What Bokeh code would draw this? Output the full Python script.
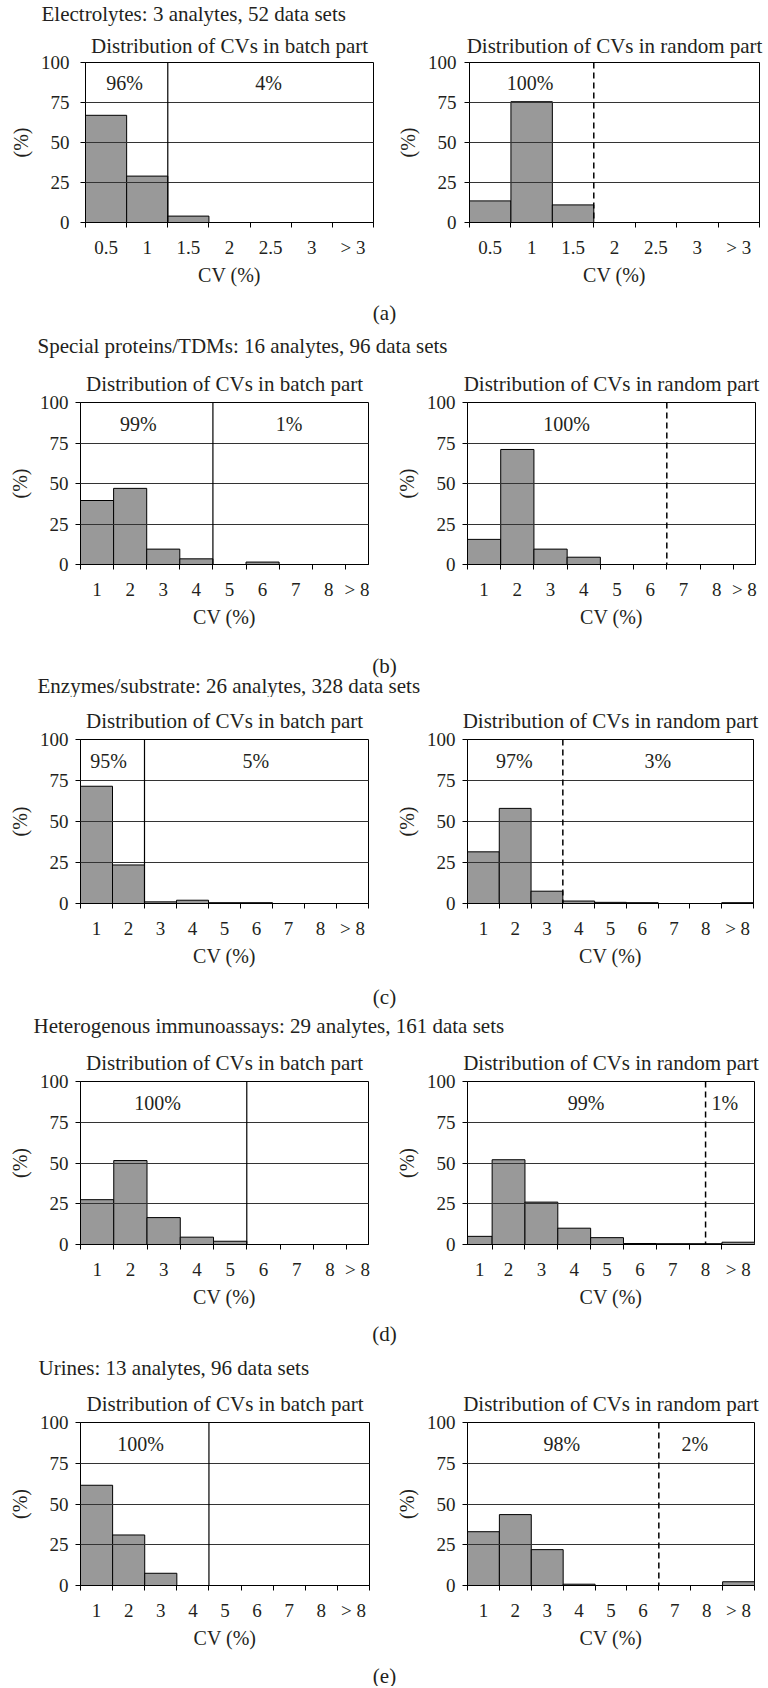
from bokeh.plotting import figure
from bokeh.layouts import column, row
from bokeh.models import Range1d, FixedTicker, Span
from bokeh.core.properties import value
from bokeh.embed import file_html
from bokeh.resources import INLINE

# ---------------- data ----------------
bins_electrolytes = ["0.5", "1", "1.5", "2", "2.5", "3", "> 3"]
bins_general = ["1", "2", "3", "4", "5", "6", "7", "8", "> 8"]

group_titles = [
    "Electrolytes: 3 analytes, 52 data sets",
    "Special proteins/TDMs: 16 analytes, 96 data sets",
    "Enzymes/substrate: 26 analytes, 328 data sets",
    "Heterogenous immunoassays: 29 analytes, 161 data sets",
    "Urines: 13 analytes, 96 data sets",
]
panel_letters = ["(a)", "(b)", "(c)", "(d)", "(e)"]
subtitle_batch = "Distribution of CVs in batch part"
subtitle_random = "Distribution of CVs in random part"
x_label = "CV (%)"
y_label = "(%)"
y_ticks = [0, 25, 50, 75, 100]

electrolytes_batch = [67, 29, 4, 0, 0, 0, 0]
electrolytes_random = [13.5, 75.5, 11, 0, 0, 0, 0]
proteins_batch = [39.5, 47, 9.5, 3.5, 0, 1.5, 0, 0, 0]
proteins_random = [15.5, 71, 9.5, 4.5, 0, 0, 0, 0, 0]
enzymes_batch = [71.5, 23.5, 1, 2, 0.5, 0.5, 0, 0, 0]
enzymes_random = [31.5, 58, 7.5, 1.5, 0.7, 0.5, 0, 0, 0.5]
immuno_batch = [27.5, 51.5, 16.5, 4.5, 2, 0, 0, 0, 0]
immuno_random = [5, 52, 26, 10, 4.2, 0.6, 0.5, 0.5, 1.4]
urines_batch = [61.5, 31, 7.5, 0, 0, 0, 0, 0, 0]
urines_random = [33, 43.5, 22, 0.8, 0, 0, 0, 0, 2.3]

# split position (in bin units), share labels and where they sit (bin units)
electrolytes_batch_split, electrolytes_batch_shares, electrolytes_batch_share_x = 2.5, ["96%", "4%"], [1.45, 4.95]
electrolytes_random_split, electrolytes_random_shares, electrolytes_random_share_x = 3.5, ["100%"], [1.96]
proteins_batch_split, proteins_batch_shares, proteins_batch_share_x = 4.5, ["99%", "1%"], [2.25, 6.8]
proteins_random_split, proteins_random_shares, proteins_random_share_x = 6.5, ["100%"], [3.48]
enzymes_batch_split, enzymes_batch_shares, enzymes_batch_share_x = 2.5, ["95%", "5%"], [1.38, 5.98]
enzymes_random_split, enzymes_random_shares, enzymes_random_share_x = 3.5, ["97%", "3%"], [1.97, 6.49]
immuno_batch_split, immuno_batch_shares, immuno_batch_share_x = 5.5, ["100%"], [2.82]
immuno_random_split, immuno_random_shares, immuno_random_share_x = 8.0, ["99%", "1%"], [4.36, 8.59]
urines_batch_split, urines_batch_shares, urines_batch_share_x = 4.5, ["100%"], [2.37]
urines_random_split, urines_random_shares, urines_random_share_x = 6.5, ["98%", "2%"], [3.46, 7.63]
share_label_y = 87

# ---------------- style / layout ----------------
FONT = "Liberation Serif"
TXT = "#231f20"
BAR = "#999999"
TOTAL_W = 768
LEFT_W = 392
RIGHT_W = TOTAL_W - LEFT_W
B_BORDER = 68


def make_chart(bins, vals, subtitle, split, dashed, shares, share_x,
               x_start, x_end, width, bl, br, frame_h, ystand, t_border, t_standoff):
    n = len(bins)
    centers = list(range(1, n + 1))
    p = figure(width=width, height=t_border + frame_h + B_BORDER,
               x_range=Range1d(x_start, x_end), y_range=Range1d(0, 100),
               min_border_left=bl, min_border_right=br,
               min_border_top=t_border, min_border_bottom=B_BORDER,
               toolbar_location=None, output_backend="svg", title=subtitle)
    p.title.align = "center"
    p.title.text_font = FONT
    p.title.text_font_size = "21px"
    p.title.text_font_style = "normal"
    p.title.text_color = TXT
    p.title.standoff = t_standoff

    p.quad(left=[c - 0.5 for c in centers], right=[c + 0.5 for c in centers],
           bottom=0, top=vals, fill_color=BAR, line_color="black", line_width=1)

    p.xgrid.visible = False
    p.ygrid.ticker = FixedTicker(ticks=[25, 50, 75])
    p.ygrid.grid_line_color = "#333333"
    p.ygrid.grid_line_width = 1
    p.ygrid.level = "guide"

    p.add_layout(Span(location=split, dimension="height", line_color="black",
                      line_width=1.5 if dashed else 1.2,
                      line_dash="6 4" if dashed else "solid"))

    p.text(x=share_x, y=[share_label_y] * len(shares), text=shares,
           text_align="center", text_baseline="middle",
           text_font=value(FONT), text_font_size="20px", text_color=TXT)

    # x axis: labels centred on visible part of each bin, ticks on bin edges
    label_pos = []
    for c in centers:
        lo, hi = max(c - 0.5, x_start), min(c + 0.5, x_end)
        label_pos.append((lo + hi) / 2)
    edges = [c - 0.5 for c in centers] + [centers[-1] + 0.5]
    edges = [e for e in edges if x_start - 1e-6 <= e <= x_end + 1e-6]
    p.xaxis.ticker = FixedTicker(ticks=label_pos, minor_ticks=edges)
    p.xaxis.major_label_overrides = {lp: b for lp, b in zip(label_pos, bins)}
    p.xaxis.major_tick_out = 0
    p.xaxis.major_tick_in = 0
    p.xaxis.minor_tick_out = 5
    p.xaxis.minor_tick_in = 0
    p.xaxis.minor_tick_line_color = "black"
    p.xaxis.axis_line_color = "black"
    p.xaxis.major_label_standoff = 9
    p.xaxis.major_label_text_font = FONT
    p.xaxis.major_label_text_font_size = "19px"
    p.xaxis.major_label_text_color = TXT
    p.xaxis.axis_label = x_label
    p.xaxis.axis_label_standoff = 3
    p.xaxis.axis_label_text_font = FONT
    p.xaxis.axis_label_text_font_size = "20px"
    p.xaxis.axis_label_text_font_style = "normal"
    p.xaxis.axis_label_text_color = TXT

    p.yaxis.ticker = FixedTicker(ticks=y_ticks)
    p.yaxis.major_tick_out = 5
    p.yaxis.major_tick_in = 0
    p.yaxis.minor_tick_line_color = None
    p.yaxis.axis_line_color = "black"
    p.yaxis.major_label_standoff = ystand
    p.yaxis.major_label_text_font = FONT
    p.yaxis.major_label_text_font_size = "19px"
    p.yaxis.major_label_text_color = TXT
    p.yaxis.axis_label = y_label
    p.yaxis.axis_label_standoff = 6
    p.yaxis.axis_label_text_font = FONT
    p.yaxis.axis_label_text_font_size = "20px"
    p.yaxis.axis_label_text_font_style = "normal"
    p.yaxis.axis_label_text_color = TXT

    p.outline_line_color = "black"
    p.outline_line_width = 1
    p.background_fill_color = "white"
    return p


def gap_fig(height, items):
    g = figure(width=TOTAL_W, height=height, x_range=Range1d(0, TOTAL_W),
               y_range=Range1d(height, 0), min_border=0,
               toolbar_location=None, output_backend="svg",
               x_axis_type=None, y_axis_type=None)
    g.outline_line_color = None
    for x, y, txt, align in items:
        g.text(x=[x], y=[y], text=[txt], text_align=align, text_baseline="middle",
               text_font=value(FONT), text_font_size="21px", text_color=TXT)
    return g


# per panel: values, split, shares, share_x, x range, border left, border right, y-label standoff
rows_spec = [
    dict(bins=bins_electrolytes, fh=160, top=36, standoff=9,
         batch=(electrolytes_batch, electrolytes_batch_split, electrolytes_batch_shares, electrolytes_batch_share_x, (0.5, 7.5), 85, 19, 11),
         random=(electrolytes_random, electrolytes_random_split, electrolytes_random_shares, electrolytes_random_share_x, (0.5, 7.5), 77, 9, 8)),
    dict(bins=bins_general, fh=162, top=42, standoff=14,
         batch=(proteins_batch, proteins_batch_split, proteins_batch_shares, proteins_batch_share_x, (0.5, 9.2), 80, 24, 7),
         random=(proteins_random, proteins_random_split, proteins_random_shares, proteins_random_share_x, (0.5, 9.17), 72, 13, 7)),
    dict(bins=bins_general, fh=164, top=42, standoff=14,
         batch=(enzymes_batch, enzymes_batch_split, enzymes_batch_shares, enzymes_batch_share_x, (0.5, 9.5), 80, 24, 7),
         random=(enzymes_random, enzymes_random_split, enzymes_random_shares, enzymes_random_share_x, (0.5, 9.5), 72, 15, 7)),
    dict(bins=bins_general, fh=163, top=42, standoff=14,
         batch=(immuno_batch, immuno_batch_split, immuno_batch_shares, immuno_batch_share_x, (0.5, 9.16), 80, 24, 7),
         random=(immuno_random, immuno_random_split, immuno_random_shares, immuno_random_share_x, (0.75, 9.49), 72, 14, 7)),
    dict(bins=bins_general, fh=163, top=42, standoff=14,
         batch=(urines_batch, urines_batch_split, urines_batch_shares, urines_batch_share_x, (0.5, 9.5), 80, 23, 7),
         random=(urines_random, urines_random_split, urines_random_shares, urines_random_share_x, (0.5, 9.5), 74, 14, 7)),
]

LETTER_X = 384
gaps = [
    (26, [(41, 13, group_titles[0], "left")]),
    (70, [(LETTER_X, 22, panel_letters[0], "center"), (37, 55, group_titles[1], "left")]),
    (65, [(LETTER_X, 33, panel_letters[1], "center"), (37, 53, group_titles[2], "left")]),
    (68, [(LETTER_X, 25, panel_letters[2], "center"), (33, 54, group_titles[3], "left")]),
    (68, [(LETTER_X, 21, panel_letters[3], "center"), (38, 55, group_titles[4], "left")]),
    (33, [(LETTER_X, 22, panel_letters[4], "center")]),
]

children = []
for i, spec in enumerate(rows_spec):
    children.append(gap_fig(*gaps[i]))
    bv, bs, bsh, bsx, bxr, bbl, bbr, bys = spec["batch"]
    rv, rs, rsh, rsx, rxr, rbl, rbr, rys = spec["random"]
    left = make_chart(spec["bins"], bv, subtitle_batch, bs, False, bsh, bsx,
                      bxr[0], bxr[1], LEFT_W, bbl, bbr, spec["fh"], bys,
                      spec["top"], spec["standoff"])
    right = make_chart(spec["bins"], rv, subtitle_random, rs, True, rsh, rsx,
                       rxr[0], rxr[1], RIGHT_W, rbl, rbr, spec["fh"], rys,
                       spec["top"], spec["standoff"])
    children.append(row(left, right))
children.append(gap_fig(*gaps[-1]))

layout = column(*children)
open("out.html", "w").write(file_html(layout, INLINE))
